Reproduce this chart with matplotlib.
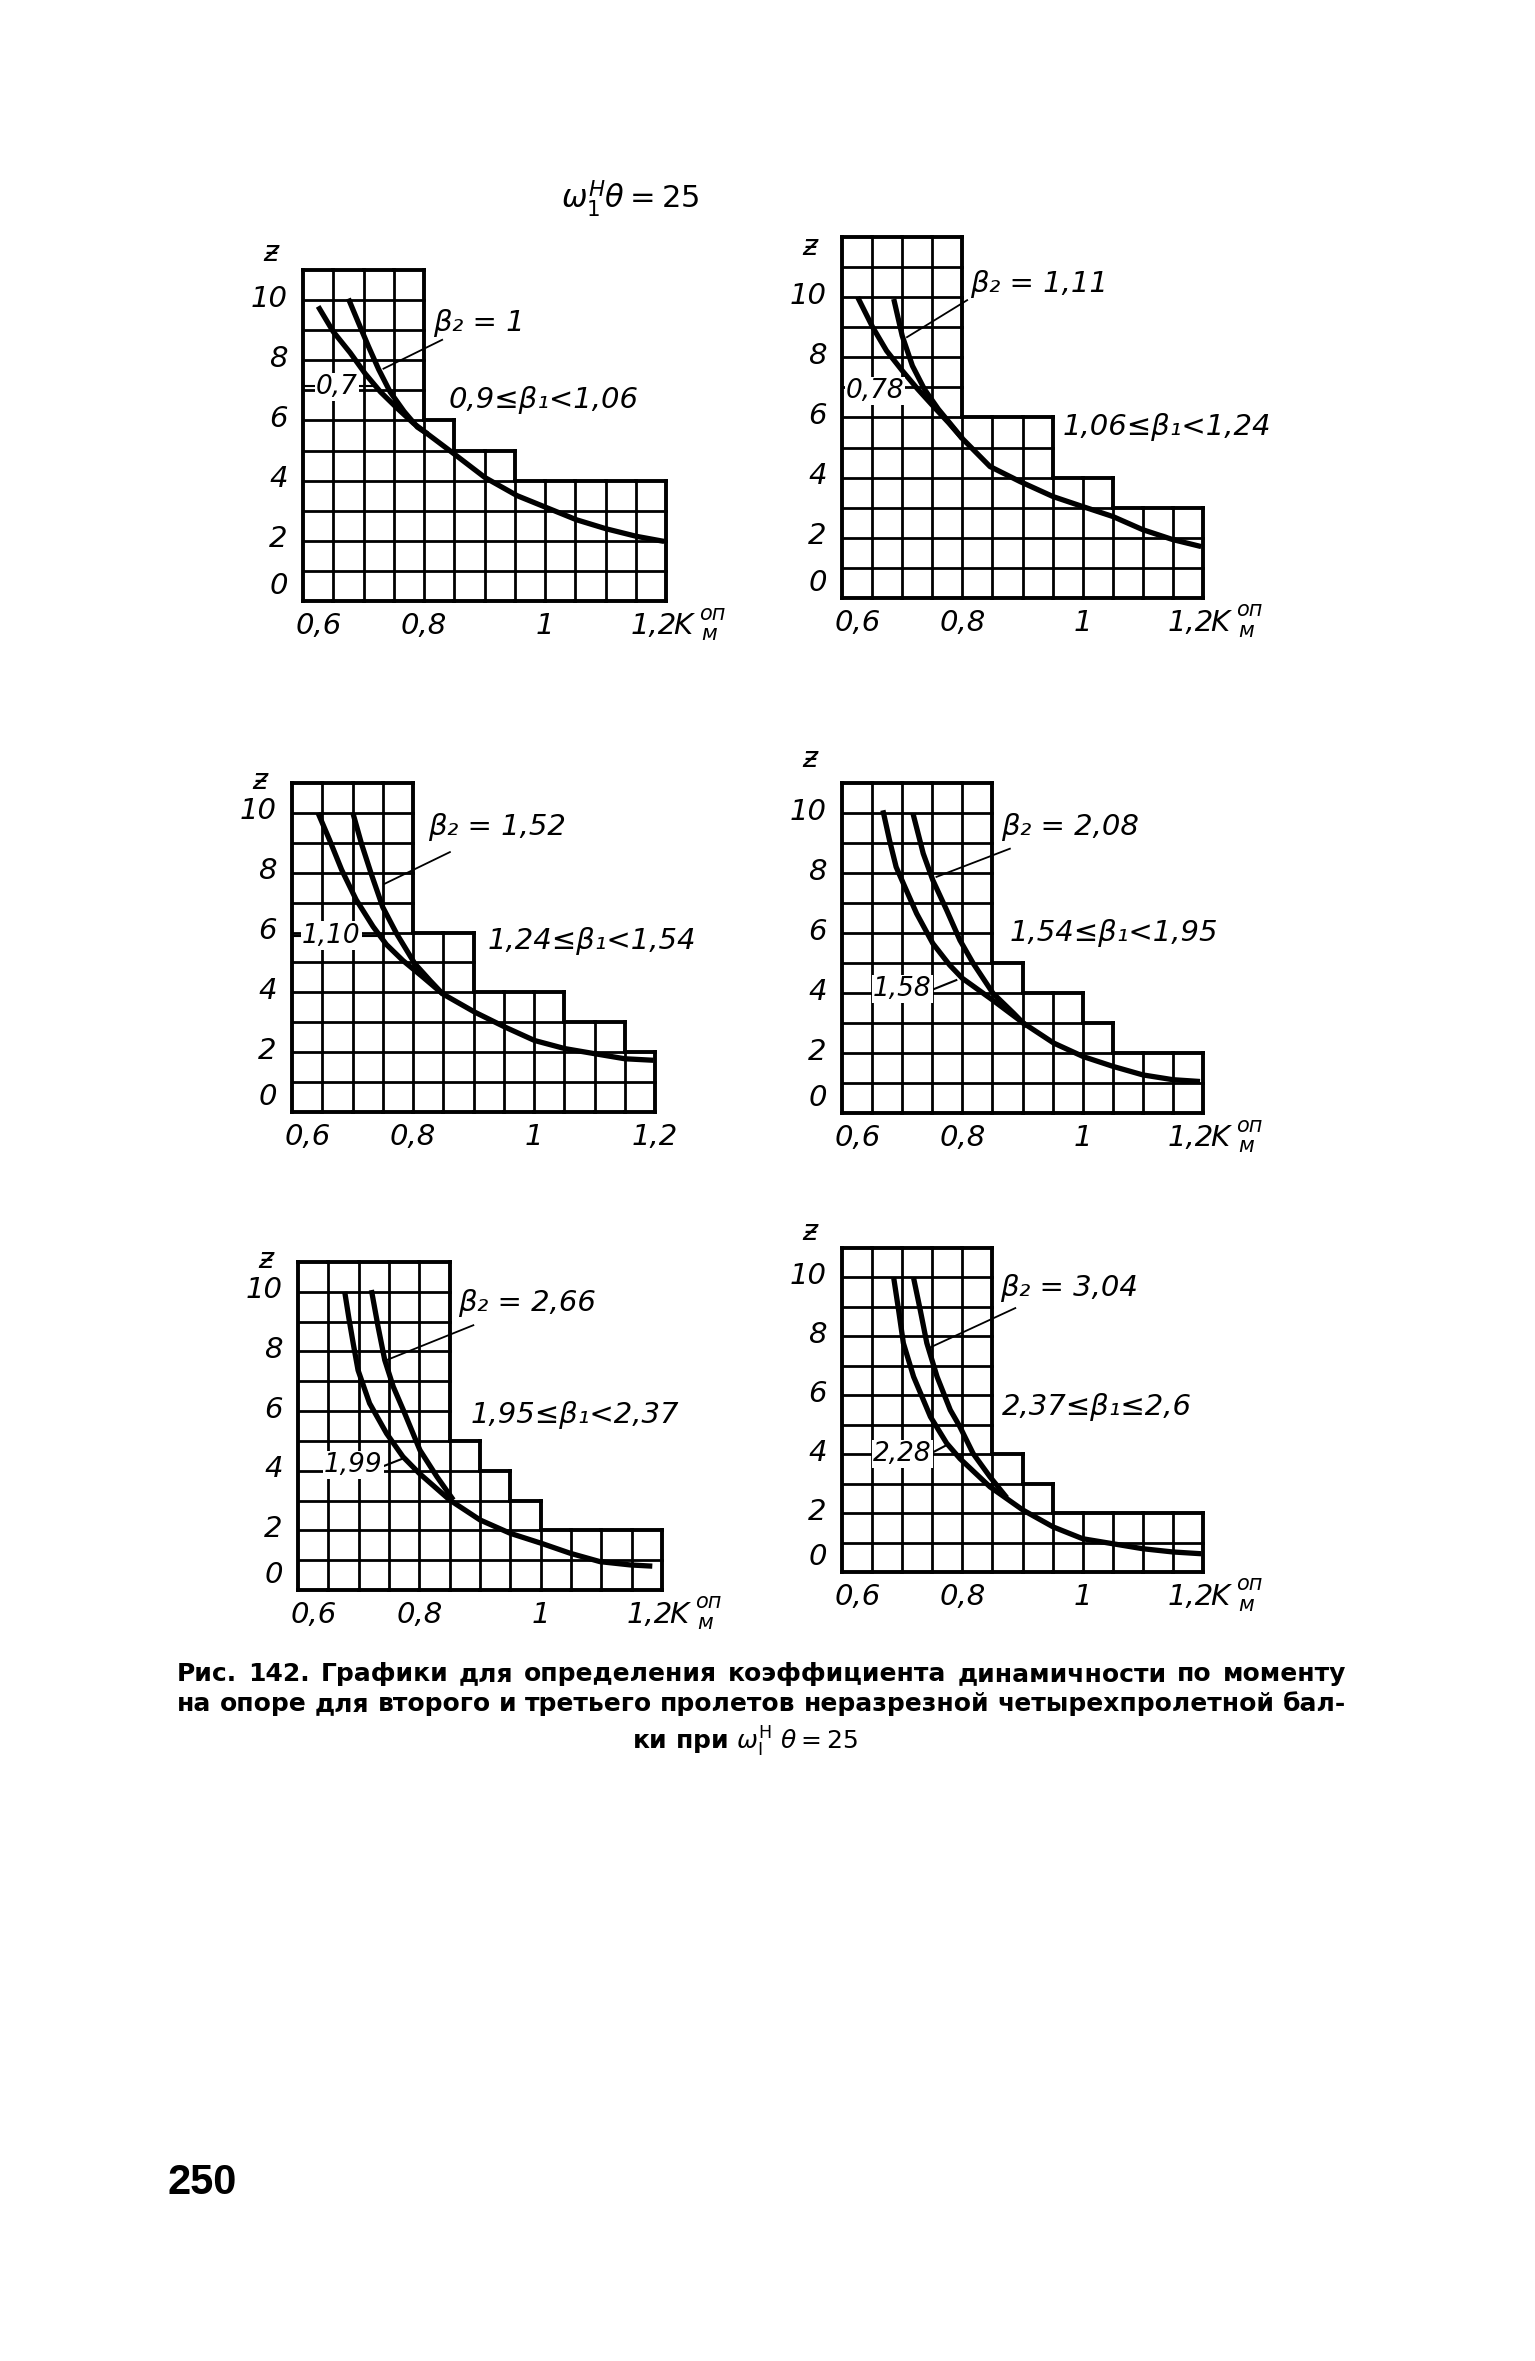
import matplotlib
matplotlib.use('Agg')
import matplotlib.pyplot as plt

W, H = 1535, 2361

# axis ticks (same on every panel)
k_ticks = [0.6, 0.8, 1.0, 1.2]
k_tick_labels = ['0,6', '0,8', '1', '1,2']
z_ticks = [0, 2, 4, 6, 8, 10]
z_tick_labels = ['0', '2', '4', '6', '8', '10']

# grid columns (0.05 wide from 0.6), height of each column in z units
heights_1 = [11, 11, 11, 11, 6, 5, 5, 4, 4, 4, 4, 4]
heights_2 = [12, 12, 12, 12, 6, 6, 6, 4, 4, 3, 3, 3]
heights_3 = [11, 11, 11, 11, 6, 6, 4, 4, 4, 3, 3, 2]
heights_4 = [11, 11, 11, 11, 11, 5, 4, 4, 3, 2, 2, 2]
heights_5 = [11, 11, 11, 11, 11, 5, 4, 3, 2, 2, 2, 2]
heights_6 = [11, 11, 11, 11, 11, 4, 3, 2, 2, 2, 2, 2]

# curves: a = lower beta2 value, b = upper beta2 value
k_1a = [0.625, 0.65, 0.678, 0.703, 0.728, 0.756, 0.783, 0.806, 0.849, 0.901, 0.954, 1.003, 1.052, 1.101, 1.151, 1.197]
z_1a = [9.79, 8.95, 8.25, 7.55, 6.95, 6.4, 5.9, 5.55, 4.9, 4.1, 3.5, 3.1, 2.7, 2.4, 2.15, 1.98]
k_1b = [0.675, 0.692, 0.708, 0.725, 0.744, 0.767, 0.789, 0.806]
z_1b = [10.05, 9.23, 8.47, 7.7, 6.95, 6.3, 5.78, 5.55]

k_2a = [0.626, 0.651, 0.674, 0.7, 0.726, 0.751, 0.777, 0.8, 0.846, 0.896, 0.951, 1.0, 1.05, 1.1, 1.15, 1.197]
z_2a = [10.0, 9.0, 8.22, 7.56, 6.94, 6.39, 5.83, 5.3, 4.37, 3.87, 3.37, 3.04, 2.71, 2.27, 1.94, 1.71]
k_2b = [0.686, 0.7, 0.717, 0.737, 0.76, 0.783, 0.8]
z_2b = [9.94, 8.72, 7.72, 6.94, 6.28, 5.72, 5.3]

k_3a = [0.643, 0.662, 0.682, 0.706, 0.734, 0.756, 0.783, 0.817, 0.849, 0.902, 0.952, 1.001, 1.051, 1.1, 1.15, 1.197]
z_3a = [10.0, 9.1, 8.1, 7.1, 6.2, 5.6, 5.07, 4.5, 3.95, 3.34, 2.84, 2.39, 2.12, 1.95, 1.78, 1.73]
k_3b = [0.701, 0.715, 0.731, 0.75, 0.773, 0.803, 0.828, 0.849]
z_3b = [9.97, 8.96, 7.96, 6.85, 5.96, 4.96, 4.4, 3.95]

k_4a = [0.668, 0.679, 0.69, 0.702, 0.724, 0.751, 0.779, 0.8, 0.85, 0.902, 0.952, 1.001, 1.051, 1.1, 1.15, 1.195]
z_4a = [10.09, 9.09, 8.2, 7.65, 6.65, 5.65, 4.93, 4.49, 3.77, 2.99, 2.33, 1.88, 1.55, 1.27, 1.11, 1.05]
k_4b = [0.718, 0.735, 0.751, 0.774, 0.796, 0.818, 0.851, 0.885, 0.907]
z_4b = [9.98, 8.65, 7.76, 6.76, 5.76, 4.99, 3.99, 3.33, 2.88]

k_5a = [0.677, 0.684, 0.691, 0.699, 0.718, 0.746, 0.773, 0.8, 0.85, 0.9, 0.95, 1.002, 1.049, 1.098, 1.148, 1.184]
z_5a = [10.0, 9.1, 8.27, 7.37, 6.26, 5.25, 4.47, 3.91, 3.02, 2.35, 1.9, 1.56, 1.23, 0.95, 0.84, 0.8]
k_5b = [0.721, 0.732, 0.743, 0.757, 0.776, 0.801, 0.829, 0.856]
z_5b = [10.06, 8.83, 7.71, 6.82, 5.92, 4.69, 3.8, 3.02]

k_6a = [0.686, 0.694, 0.702, 0.719, 0.747, 0.774, 0.796, 0.846, 0.901, 0.951, 1.0, 1.05, 1.1, 1.15, 1.197]
z_6a = [9.98, 8.9, 7.77, 6.63, 5.27, 4.37, 3.85, 2.89, 2.1, 1.53, 1.13, 0.96, 0.79, 0.68, 0.62]
k_6b = [0.719, 0.73, 0.741, 0.758, 0.78, 0.796, 0.818, 0.846, 0.874]
z_6b = [9.98, 8.9, 7.77, 6.63, 5.5, 4.93, 4.02, 3.23, 2.52]

beta2_labels = ['β₂ = 1', 'β₂ = 1,11', 'β₂ = 1,52', 'β₂ = 2,08', 'β₂ = 2,66', 'β₂ = 3,04']
beta2_low = ['0,7', '0,78', '1,10', '1,58', '1,99', '2,28']
beta1_ranges = ['0,9≤β₁<1,06', '1,06≤β₁<1,24', '1,24≤β₁<1,54',
                '1,54≤β₁<1,95', '1,95≤β₁<2,37', '2,37≤β₁≤2,6']

title = r'$\omega_1^{H}\theta = 25$'
caption_1 = 'Рис. 142. Графики для определения коэффициента динамичности по моменту'
caption_2 = 'на опоре для второго и третьего пролетов неразрезной четырехпролетной бал-'
caption_3 = r'ки при $\omega_{\rm I}^{\rm H}\ \theta=25$'
page_no = '250'

# layout: pixel box (left, right, top, bottom) and annotation placement in data units
panels = [
    dict(box=(303, 666, 270, 601), h=heights_1, a=(k_1a, z_1a), b=(k_1b, z_1b), kk=True,
         b2_xy=(0.815, 9.25), b2_lead=[(0.83, 8.68), (0.733, 7.72)],
         low_xy=(0.656, 7.1), low_lead=[(0.6, 7.13), (0.722, 7.13)],
         rng_xy=(0.841, 6.67), zlab=11.56),
    dict(box=(842, 1203, 237, 598), h=heights_2, a=(k_2a, z_2a), b=(k_2b, z_2b), kk=True,
         b2_xy=(0.812, 10.45), b2_lead=[(0.808, 9.9), (0.708, 8.67)],
         low_xy=(0.655, 6.88), low_lead=None,
         rng_xy=(0.967, 5.7), zlab=11.67),
    dict(box=(292, 655, 783, 1112), h=heights_3, a=(k_3a, z_3a), b=(k_3b, z_3b), kk=False,
         b2_xy=(0.825, 9.52), b2_lead=[(0.861, 8.69), (0.753, 7.63)],
         low_xy=(0.665, 5.9), low_lead=[(0.6, 5.9), (0.74, 5.9)],
         rng_xy=(0.924, 5.73), zlab=11.06),
    dict(box=(842, 1203, 783, 1113), h=heights_4, a=(k_4a, z_4a), b=(k_4b, z_4b), kk=True,
         b2_xy=(0.865, 9.53), b2_lead=[(0.879, 8.81), (0.757, 7.87)],
         low_xy=(0.70, 4.12), low_lead=[(0.749, 4.1), (0.79, 4.43)],
         rng_xy=(0.879, 5.99), zlab=11.8),
    dict(box=(298, 662, 1262, 1590), h=heights_5, a=(k_5a, z_5a), b=(k_5b, z_5b), kk=True,
         b2_xy=(0.864, 9.61), b2_lead=[(0.889, 8.88), (0.746, 7.71)],
         low_xy=(0.691, 4.19), low_lead=[(0.738, 4.13), (0.773, 4.41)],
         rng_xy=(0.884, 5.87), zlab=11.08),
    dict(box=(842, 1203, 1248, 1572), h=heights_6, a=(k_6a, z_6a), b=(k_6b, z_6b), kk=True,
         b2_xy=(0.863, 9.64), b2_lead=[(0.888, 8.96), (0.744, 7.6)],
         low_xy=(0.70, 4.02), low_lead=[(0.747, 4.02), (0.774, 4.31)],
         rng_xy=(0.866, 5.61), zlab=11.53),
]

plt.rcParams['font.family'] = ['DejaVu Sans']
plt.rcParams['mathtext.fontset'] = 'dejavusans'

ital = dict(style='italic', color='black')
FS = 21
fig = plt.figure(figsize=(W / 100, H / 100), dpi=100)
fig.patch.set_facecolor('white')

THIN, THICK, CURVE = 2.0, 2.8, 3.8


def line(ax, xs, ys, lw):
    ax.plot(xs, ys, color='black', lw=lw, clip_on=False, solid_capstyle='projecting')


def draw_grid(ax, heights):
    n = len(heights)
    edges = [0.6 + 0.05 * i for i in range(n + 1)]
    for i, xe in enumerate(edges):
        hl = heights[i - 1] if i > 0 else 0
        hr = heights[i] if i < n else 0
        lo, hi = min(hl, hr), max(hl, hr)
        if lo > 0:
            line(ax, [xe, xe], [0, lo], THIN)
        if hi > lo:
            line(ax, [xe, xe], [lo, hi], THICK)
    for j in range(n):
        for y in range(heights[j] + 1):
            lw = THICK if y in (0, heights[j]) else THIN
            line(ax, [edges[j], edges[j + 1]], [y, y], lw)


for i, p in enumerate(panels):
    l, r, t, b = p['box']
    ax = fig.add_axes([l / W, 1 - b / H, (r - l) / W, (b - t) / H])
    ax.set_xlim(0.6, 1.2)
    ax.set_ylim(0, max(p['h']))
    ax.axis('off')

    draw_grid(ax, p['h'])
    for kx, zy in (p['a'], p['b']):
        ax.plot(kx, zy, color='black', lw=CURVE, clip_on=False,
                solid_capstyle='butt', solid_joinstyle='round', zorder=5)

    # tick labels
    for v, s in zip(z_ticks, z_tick_labels):
        ax.annotate(s, (0.6, v + (0.5 if v == 0 else 0.05)), xytext=(-11, 0),
                    textcoords='offset points', ha='right', va='center',
                    fontsize=FS, annotation_clip=False, **ital)
    ax.annotate('ƶ', (0.6, p['zlab']), xytext=(-23, 0), textcoords='offset points',
                ha='center', va='center', fontsize=FS, annotation_clip=False, **ital)
    for v, s in zip(k_ticks, k_tick_labels):
        dx = 0
        if v == 0.6:
            dx = 11
        elif v == 1.2 and p['kk']:
            dx = -9
        ax.annotate(s, (v, 0), xytext=(dx, -18), textcoords='offset points',
                    ha='center', va='center', fontsize=FS, annotation_clip=False, **ital)
    if p['kk']:
        ax.annotate('K', (1.2, 0), xytext=(12, -18), textcoords='offset points',
                    ha='center', va='center', fontsize=FS, annotation_clip=False, **ital)
        ax.annotate('оп', (1.2, 0), xytext=(33, -9), textcoords='offset points',
                    ha='center', va='center', fontsize=15, annotation_clip=False, **ital)
        ax.annotate('м', (1.2, 0), xytext=(31, -24), textcoords='offset points',
                    ha='center', va='center', fontsize=15, annotation_clip=False, **ital)

    # curve labels
    ax.text(*p['b2_xy'], beta2_labels[i], ha='left', va='center', fontsize=FS, **ital)
    (x1, y1), (x2, y2) = p['b2_lead']
    ax.plot([x1, x2], [y1, y2], color='black', lw=1.3, zorder=4)
    if p['low_lead'] is not None:
        (x1, y1), (x2, y2) = p['low_lead']
        ax.plot([x1, x2], [y1, y2], color='black', lw=1.5, zorder=4, clip_on=False)
    ax.text(*p['low_xy'], beta2_low[i], ha='center', va='center', fontsize=19, zorder=6,
            bbox=dict(facecolor='white', edgecolor='none', pad=0.8), **ital)
    ax.text(*p['rng_xy'], beta1_ranges[i], ha='left', va='center', fontsize=FS, **ital)

fig.text(630 / W, 1 - 198 / H, title, ha='center', va='center', fontsize=22, **ital)

# caption, first two lines justified between x=177 and x=1346
renderer = fig.canvas.get_renderer()
cap_font = dict(fontsize=18, fontweight='bold', color='black', family=['DejaVu Sans'])
for txt, yp in ((caption_1, 1674), (caption_2, 1704)):
    words = txt.split(' ')
    arts = [fig.text(0, 1 - yp / H, w_, ha='left', va='center', **cap_font) for w_ in words]
    widths = [a.get_window_extent(renderer).width for a in arts]
    gap = (1346 - 177 - sum(widths)) / (len(words) - 1)
    xp = 177
    for a, wd in zip(arts, widths):
        a.set_x(xp / W)
        xp += wd + gap
fig.text(745 / W, 1 - 1742 / H, caption_3, ha='center', va='center', **cap_font)

fig.text(202 / W, 1 - 2183 / H, page_no, ha='center', va='center', fontsize=30,
         fontweight='bold', family=['Liberation Sans', 'DejaVu Sans'])

fig.savefig('out.png', dpi=100, facecolor='white')
